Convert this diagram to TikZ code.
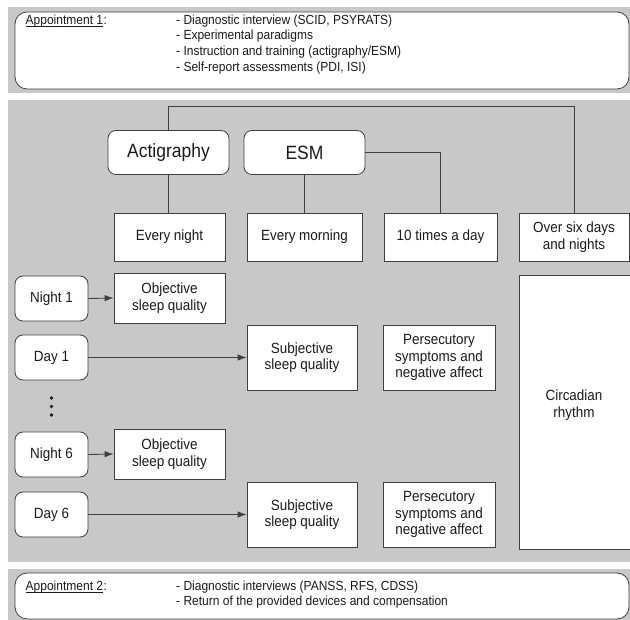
\documentclass[tikz,border=0pt]{standalone}
\usepackage{fontspec}
\setmainfont{Liberation Sans}[FakeStretch=0.91]
\usetikzlibrary{arrows.meta}
\definecolor{bggray}{HTML}{C8C8C8}
\definecolor{linec}{HTML}{404040}
\definecolor{txtc}{HTML}{1A1A1A}
\newcommand{\myuline}[1]{\tikz[baseline=(ul.base)]{\node[inner sep=0pt] (ul) {#1};\draw[txtc, line width=0.6pt] ([yshift=-1.6pt]ul.base west) -- ([yshift=-1.6pt]ul.base east);}}
\begin{document}
\begin{tikzpicture}[x=1pt,y=-1pt,
  panel/.style={fill=bggray, draw=none},
  apptbox/.style={fill=white, draw=linec, line width=0.8pt, rounded corners=12pt},
  box/.style={draw=linec, fill=white, line width=0.8pt, align=center, text=txtc,
    font=\fontsize{14.8}{16.5}\selectfont, inner sep=0pt},
  rbox/.style={box, rounded corners=8pt},
  bigbox/.style={rbox, font=\fontsize{19.2}{21}\selectfont},
  conn/.style={draw=linec, line width=0.9pt},
  arr/.style={conn, -{Latex[length=9pt,width=6.5pt]}},
  dot/.style={circle, fill=txtc, inner sep=0pt, minimum size=3.6pt},
  appt/.style={anchor=north west, align=left, inner sep=0pt, text=txtc,
    font=\fontsize{13.2}{15.7}\selectfont}
]
\useasboundingbox (0,0) rectangle (630,620);
\clip (0,0) rectangle (630,620);
\fill[white] (0,0) rectangle (630,620);

% panels
\path[panel] (8,7) rectangle (640,93);
\path[panel] (8,100) rectangle (640,562);
\path[panel] (8,569) rectangle (640,630);

% appointment boxes
\path[apptbox] (15,12) rectangle (629,89);
\path[apptbox] (15,573) rectangle (629,619);

\node[appt] (a1h) at (25,14.5) {\myuline{Appointment 1}:};
\node[appt] (a1l) at (176,14.5) {- Diagnostic interview (SCID, PSYRATS)\\
- Experimental paradigms\\
- Instruction and training (actigraphy/ESM)\\
- Self-report assessments (PDI, ISI)};

\node[appt] (a2h) at (25,580.5) {\myuline{Appointment 2}:};
\node[appt] (a2l) at (176,580.5) {- Diagnostic interviews (PANSS, RFS, CDSS)\\
- Return of the provided devices and compensation};

% top level
\node[bigbox, minimum width=121pt, minimum height=44pt] (act) at (168.5,152.5) {Actigraphy};
\node[bigbox, minimum width=121pt, minimum height=44pt] (esm) at (304.5,152.5) {ESM};

% frequency boxes
\node[box, minimum width=111pt, minimum height=48pt] (night) at (169.5,237) {Every night};
\node[box, minimum width=115pt, minimum height=48pt] (morning) at (304.5,237) {Every morning};
\node[box, minimum width=113pt, minimum height=48pt] (tenx) at (440.5,237) {10 times a day};
\node[box, minimum width=110pt, minimum height=48pt] (over) at (574,237) {Over six days\\and nights};

% rows
\node[rbox, minimum width=73pt, minimum height=45pt] (n1) at (51.5,298.5) {Night 1};
\node[rbox, minimum width=73pt, minimum height=45pt] (d1) at (51.5,357.5) {Day 1};
\node[rbox, minimum width=73pt, minimum height=45pt] (n6) at (51.5,454.5) {Night 6};
\node[rbox, minimum width=73pt, minimum height=45pt] (d6) at (51.5,514.5) {Day 6};
\node[dot] (dot1) at (51.5,398) {};
\node[dot] (dot2) at (51.5,406.5) {};
\node[dot] (dot3) at (51.5,415) {};

\node[box, minimum width=111pt, minimum height=50pt] (obj1) at (169.5,298) {Objective\\sleep quality};
\node[box, minimum width=111pt, minimum height=50pt] (obj6) at (169.5,454) {Objective\\sleep quality};
\node[box, minimum width=110pt, minimum height=65pt] (subj1) at (302,357.5) {Subjective\\sleep quality};
\node[box, minimum width=110pt, minimum height=65pt] (subj6) at (302,514.5) {Subjective\\sleep quality};
\node[box, minimum width=112pt, minimum height=65pt] (pers1) at (439,357.5) {Persecutory\\symptoms and\\negative affect};
\node[box, minimum width=112pt, minimum height=65pt] (pers6) at (439,514.5) {Persecutory\\symptoms and\\negative affect};
\node[box, minimum width=112pt, minimum height=274pt] (circ) at (575,412) {};
\node[align=center, inner sep=0pt, text=txtc, font=\fontsize{14.8}{16.5}\selectfont] (circt) at (574,405) {Circadian\\rhythm};

% connectors
\coordinate (tl) at (0,106);
\draw[conn] (act.north) -- (act.north |- tl) -| (over.north);
\draw[conn] (act.south) -- (act.south |- night.north);
\draw[conn] (esm.south) -- (esm.south |- morning.north);
\draw[conn] (esm.east) -| (tenx.north);

\draw[arr] (n1.east) -- (obj1.west);
\draw[arr] (d1.east) -- (subj1.west);
\draw[arr] (n6.east) -- (obj6.west);
\draw[arr] (d6.east) -- (subj6.west);
\end{tikzpicture}
\end{document}
